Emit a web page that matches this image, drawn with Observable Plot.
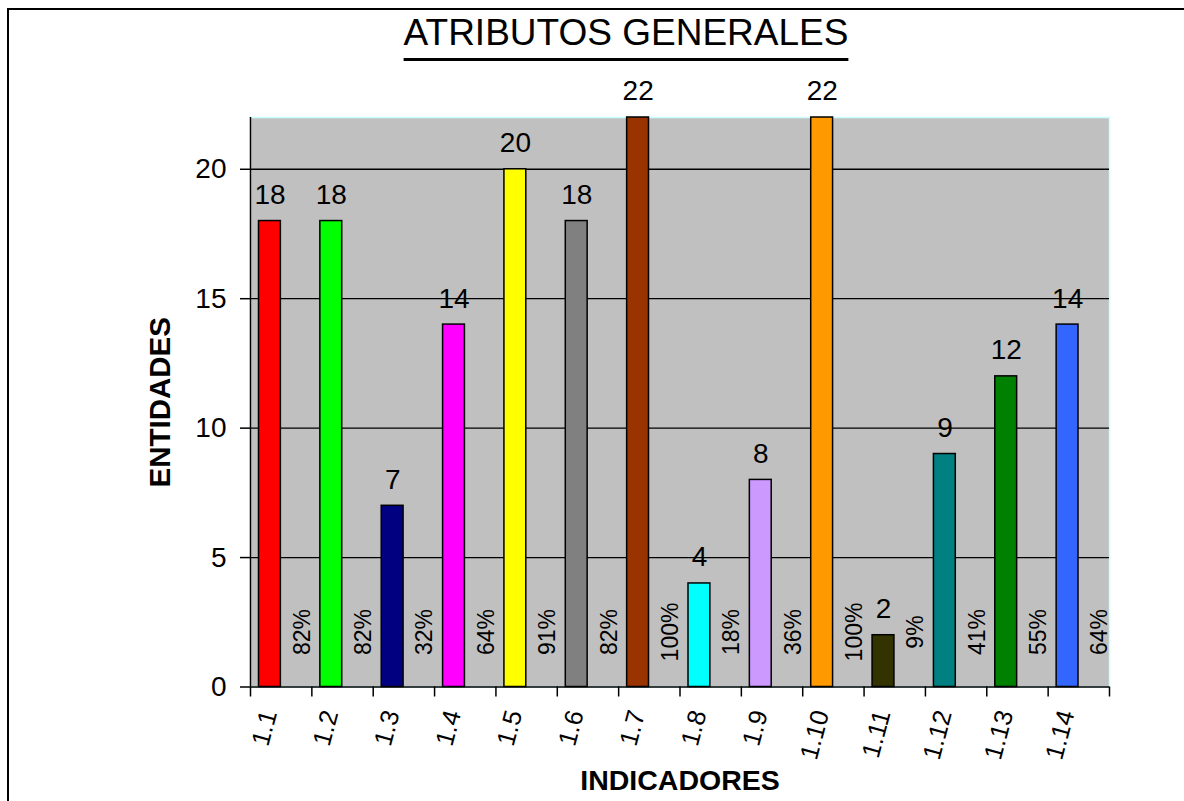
<!DOCTYPE html>
<html>
<head>
<meta charset="utf-8">
<script src="https://cdn.jsdelivr.net/npm/d3@7"></script>
<script src="https://cdn.jsdelivr.net/npm/@observablehq/plot@0.6"></script>
<style>
html,body{margin:0;padding:0;background:#fff;overflow:hidden;width:1184px;height:801px;}
#wrap{position:relative;width:1184px;height:801px;font-family:"Liberation Sans",Arial,sans-serif;}
#frame{position:absolute;left:7px;top:8px;width:1210px;height:830px;border:2.7px solid #000;box-sizing:border-box;z-index:2;pointer-events:none;}
#head{position:absolute;left:0;top:0;width:1184px;height:70px;}
#title{position:absolute;top:14px;left:68px;width:1116px;text-align:center;font-size:37px;line-height:37px;text-decoration:underline;text-decoration-thickness:3px;text-underline-offset:13px;color:#000;margin:0;font-weight:normal;}
#chart{position:absolute;left:0;top:70px;}
</style>
</head>
<body>
<div id="wrap">
  <div id="frame"></div>
  <div id="head"><h1 id="title">ATRIBUTOS GENERALES</h1></div>
  <div id="chart"></div>
</div>
<script>
const categories = ["1.1","1.2","1.3","1.4","1.5","1.6","1.7","1.8","1.9","1.10","1.11","1.12","1.13","1.14"];
const values = [18,18,7,14,20,18,22,4,8,22,2,9,12,14];
const percents = ["82%","82%","32%","64%","91%","82%","100%","18%","36%","100%","9%","41%","55%","64%"];
const colors = ["#FF0000","#00FF00","#000080","#FF00FF","#FFFF00","#808080","#993300","#00FFFF","#CC99FF","#FF9900","#333300","#008080","#008000","#3366FF"];
const yTicks = [0,5,10,15,20];
const gridValues = [5,10,15,20];
const yMax = 22;
const xLabel = "INDICADORES";
const yLabel = "ENTIDADES";

const data = categories.map((c, i) => ({cat: c, i, value: values[i], pct: percents[i], color: colors[i]}));
const font = "'Liberation Sans', Arial, sans-serif";

const chart = Plot.plot({
  width: 1184,
  height: 731,
  marginTop: 47,
  marginBottom: 114.5,
  marginLeft: 250,
  marginRight: 75,
  style: {fontFamily: font, background: "transparent", color: "#000", overflow: "visible"},
  x: {domain: [0, categories.length], axis: null},
  y: {domain: [0, yMax], axis: null},
  color: {type: "identity"},
  marks: [
    Plot.frame({fill: "#C0C0C0", stroke: "#CCFFFF", strokeWidth: 1.5}),
    Plot.ruleY(gridValues, {stroke: "#000", strokeWidth: 1.3}),
    Plot.rect(data, {x1: "i", x2: d => d.i + 1, y1: 0, y2: "value", fill: "color", stroke: "#000", strokeWidth: 1.5, insetLeft: 8.5, insetRight: 31}),
    Plot.ruleX([0], {stroke: "#000", strokeWidth: 1.5}),
    Plot.ruleY([0], {stroke: "#000", strokeWidth: 1.5}),
    Plot.axisY({ticks: yTicks, tickSize: 10, tickPadding: 14, fontSize: 28, label: null, strokeWidth: 1.5, fill: "#000"}),
    Plot.axisX({ticks: d3.range(categories.length + 1), tickSize: 10, tickFormat: () => "", label: null, strokeWidth: 1.5}),
    Plot.axisX({ticks: categories.map((c, i) => i + 0.5), tickSize: 0, tickPadding: 24, tickRotate: -75, tickFormat: v => categories[Math.floor(v)], fontSize: 25.5, label: null, fill: "#000", dx: -12}),
    Plot.text(data, {x: "i", y: "value", text: d => String(d.value), dx: 19.5, dy: -26, fontSize: 28, fill: "#000"}),
    Plot.text(data, {x: d => d.i + 1, frameAnchor: "bottom", text: "pct", rotate: -90, textAnchor: "middle", lineAnchor: "middle", dx: -9.5, dy: -55, fontSize: 23, fill: "#000"}),
    Plot.text([yLabel], {text: d => d, frameAnchor: "left", rotate: -90, textAnchor: "middle", lineAnchor: "middle", dx: -90, fontSize: 29.5, fontWeight: "bold", fill: "#000"}),
    Plot.text([xLabel], {text: d => d, frameAnchor: "bottom", textAnchor: "middle", lineAnchor: "middle", dy: 94, fontSize: 28.5, fontWeight: "bold", fill: "#000"})
  ]
});
document.getElementById("chart").appendChild(chart);
</script>
</body>
</html>
